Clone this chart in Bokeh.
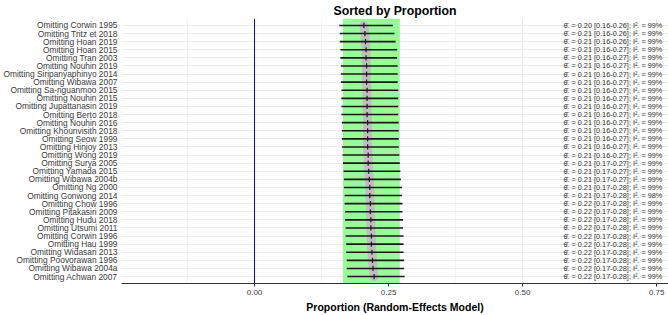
from bokeh.plotting import figure
from bokeh.models import Range1d, FixedTicker, BoxAnnotation, Span, ColumnDataSource
from bokeh.core.properties import value
from bokeh.embed import file_html
from bokeh.resources import INLINE

studies = ["Corwin 1995", "Tritz et 2018", "Hoan 2019", "Hoan 2015", "Tran 2003",
           "Nouhin 2019", "Siripanyaphinyo 2014", "Wibawa 2007", "Sa-nguanmoo 2015",
           "Nouhin 2015", "Jupattanasin 2019", "Berto 2018", "Nouhin 2016",
           "Khounvisith 2018", "Seow 1999", "Hinjoy 2013", "Wong 2019", "Surya 2005",
           "Yamada 2015", "Wibawa 2004b", "Ng 2000", "Gonwong 2014", "Chow 1996",
           "Pitakasiri 2009", "Hudu 2018", "Utsumi 2011", "Corwin 1996", "Hau 1999",
           "Widasari 2013", "Poovorawan 1996", "Wibawa 2004a", "Achwan 2007"]
estimate = [0.204, 0.206, 0.207, 0.208, 0.208, 0.209, 0.209, 0.209, 0.210, 0.210,
            0.210, 0.210, 0.211, 0.211, 0.211, 0.211, 0.212, 0.212, 0.213, 0.214,
            0.215, 0.215, 0.216, 0.216, 0.217, 0.217, 0.218, 0.218, 0.219, 0.220,
            0.221, 0.223]
lower = [0.158, 0.159, 0.159, 0.160, 0.160, 0.161, 0.161, 0.161, 0.162, 0.162,
         0.162, 0.162, 0.163, 0.163, 0.163, 0.163, 0.164, 0.165, 0.166, 0.167,
         0.167, 0.168, 0.168, 0.169, 0.169, 0.170, 0.170, 0.171, 0.171, 0.172,
         0.172, 0.173]
upper = [0.258, 0.261, 0.263, 0.266, 0.266, 0.267, 0.267, 0.267, 0.268, 0.268,
         0.268, 0.268, 0.269, 0.269, 0.269, 0.269, 0.270, 0.271, 0.272, 0.273,
         0.275, 0.275, 0.276, 0.276, 0.277, 0.277, 0.278, 0.278, 0.278, 0.279,
         0.279, 0.280]
i2 = [99, 99, 99, 99, 99, 99, 99, 99, 99, 99, 99, 99, 99, 99, 99, 99, 99, 99,
      99, 99, 99, 98, 99, 99, 99, 99, 99, 99, 99, 99, 99, 99]
pooled_lower = 0.165
pooled_upper = 0.271
x_ticks = [0.0, 0.25, 0.5, 0.75]
x_tick_labels = ["0.00", "0.25", "0.50", "0.75"]
x_minor = [-0.125, 0.125, 0.375, 0.625]

n = len(studies)
rows = list(range(1, n + 1))
labels = ["Omitting " + s for s in studies]
texts = ["θ̂₋ = %.2f [%.2f-%.2f]; I²₋ = %d%%" % (e, l, u, k)
         for e, l, u, k in zip(estimate, lower, upper, i2)]

src = ColumnDataSource(dict(y=rows, est=estimate, lo=lower, hi=upper, txt=texts,
                            y0=[r - 0.32 for r in rows], y1=[r + 0.32 for r in rows],
                            tx=[0.576] * n))

p = figure(width=668, height=315, output_backend="svg", toolbar_location=None,
           x_range=Range1d(-0.248, 0.772), y_range=Range1d(n + 0.86, 0.14),
           min_border_left=121, min_border_right=0, min_border_top=0, min_border_bottom=0,
           title="Sorted by Proportion")
p.outline_line_color = None
p.background_fill_color = "white"
p.title.align = "center"
p.title.text_font = "Liberation Sans"
p.title.text_font_size = "12.3px"
p.title.text_font_style = "bold"
p.title.text_color = "black"
p.title.standoff = 2

p.xaxis.ticker = FixedTicker(ticks=x_ticks, minor_ticks=x_minor)
p.xaxis.major_label_overrides = {t: l for t, l in zip(x_ticks, x_tick_labels)}
p.xaxis.major_label_text_font = "Liberation Sans"
p.xaxis.major_label_text_font_size = "8px"
p.xaxis.major_label_text_color = "#404040"
p.xaxis.major_tick_in = 0
p.xaxis.major_tick_out = 3
p.xaxis.minor_tick_in = 0
p.xaxis.minor_tick_out = 0
p.xaxis.axis_line_color = "#333333"
p.xaxis.major_tick_line_color = "#333333"
p.xaxis.major_label_standoff = 3
p.xaxis.axis_label = "Proportion (Random-Effects Model)"
p.xaxis.axis_label_text_font = "Liberation Sans"
p.xaxis.axis_label_text_font_size = "10.5px"
p.xaxis.axis_label_text_font_style = "bold"
p.xaxis.axis_label_text_color = "black"
p.xaxis.axis_label_standoff = 3

p.yaxis.ticker = FixedTicker(ticks=rows)
p.yaxis.major_label_overrides = {r: l for r, l in zip(rows, labels)}
p.yaxis.major_label_text_font = "Liberation Sans"
p.yaxis.major_label_text_font_size = "8.4px"
p.yaxis.major_label_text_color = "#3a3a3a"
p.yaxis.axis_line_color = None
p.yaxis.major_tick_line_color = None
p.yaxis.minor_tick_line_color = None
p.yaxis.major_tick_out = 0
p.yaxis.major_tick_in = 0
p.yaxis.major_label_standoff = 4

p.xgrid.grid_line_color = "#ebebeb"
p.xgrid.minor_grid_line_color = "#f3f3f3"
p.ygrid.grid_line_color = "#ebebeb"

p.add_layout(BoxAnnotation(left=pooled_lower, right=pooled_upper, fill_color="#98fb98",
                           fill_alpha=1.0, line_color=None, level="underlay"))
p.add_layout(Span(location=0.0, dimension="height", line_color="#0000ff", line_width=1))

p.line("est", "y", source=src, line_color="#bebebe", line_width=9, line_alpha=1.0,
       line_join="round", line_cap="round")
p.segment(x0="lo", x1="hi", y0="y", y1="y", source=src, line_color="#1a1a1a", line_width=1.6)
p.segment(x0="est", x1="est", y0="y0", y1="y1", source=src, line_color="#1a1a1a", line_width=1.2)
p.text(x="tx", y="y", text="txt", source=src, text_font=value("Liberation Sans"),
       text_font_size="7.3px", text_color="#333333", text_baseline="middle", text_align="left")

open("out.html", "w").write(file_html(p, INLINE))
